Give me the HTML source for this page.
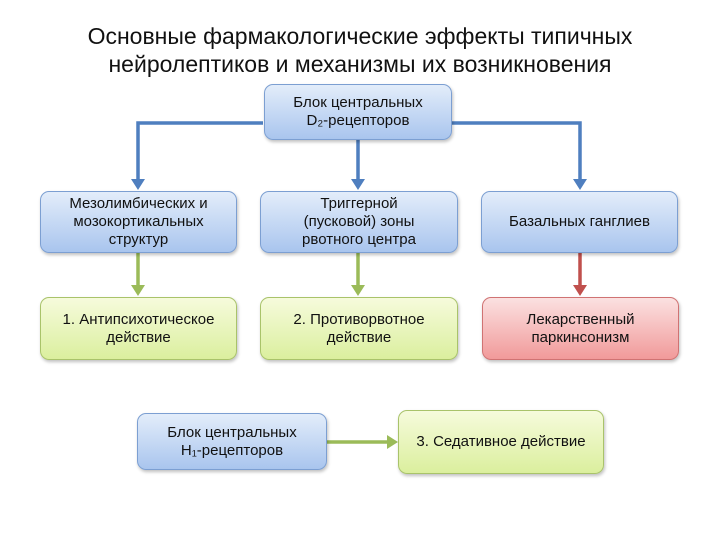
<!DOCTYPE html>
<html><head><meta charset="utf-8"><style>
body{margin:0;width:720px;height:540px;background:#fff;font-family:"Liberation Sans",sans-serif;position:relative;overflow:hidden}
.t{position:absolute;left:0;width:720px;text-align:center;font-size:23px;color:#111;line-height:28px;top:22px}
.b{position:absolute;box-sizing:border-box;border-radius:9px;display:flex;align-items:center;justify-content:center;text-align:center;font-size:15px;line-height:18px;color:#111;box-shadow:1px 2px 3px rgba(0,0,0,.25)}
.bl{background:linear-gradient(#e3edfa,#a9c5ee);border:1px solid #7c9fd2}
.gr{background:linear-gradient(#f6fbdc,#dbef9e);border:1px solid #a9c36a}
.rd{background:linear-gradient(#fbe1e1,#f19a9a);border:1px solid #d07373}
</style></head><body>
<div class="t">Основные фармакологические эффекты типичных<br>нейролептиков и механизмы их возникновения</div>
<svg width="720" height="540" style="position:absolute;left:0;top:0">
<g stroke="#4f7fbf" stroke-width="3.5" fill="none">
<path d="M263 123H138V186M452 123H580V186M358 140V186"/>
</g>
<g fill="#4f7fbf"><path d="M131 179l7 11 7-11zM351 179l7 11 7-11zM573 179l7 11 7-11z"/></g>
<g stroke="#9bbb59" stroke-width="3.5" fill="none">
<path d="M138 252V292M358 252V292M327 442H392"/>
</g>
<g fill="#9bbb59"><path d="M131 285l7 11 7-11zM351 285l7 11 7-11zM387 435l11 7-11 7z"/></g>
<g stroke="#c0504d" stroke-width="3.5" fill="none"><path d="M580 252V292"/></g>
<path d="M573 285l7 11 7-11z" fill="#c0504d"/>
</svg>
<div class="b bl" style="left:264px;top:84px;width:188px;height:56px">Блок центральных<br>D₂-рецепторов</div>
<div class="b bl" style="left:40px;top:191px;width:197px;height:62px">Мезолимбических и<br>мозокортикальных<br>структур</div>
<div class="b bl" style="left:260px;top:191px;width:198px;height:62px">Триггерной<br>(пусковой) зоны<br>рвотного центра</div>
<div class="b bl" style="left:481px;top:191px;width:197px;height:62px">Базальных ганглиев</div>
<div class="b gr" style="left:40px;top:297px;width:197px;height:63px">1. Антипсихотическое<br>действие</div>
<div class="b gr" style="left:260px;top:297px;width:198px;height:63px">2. Противорвотное<br>действие</div>
<div class="b rd" style="left:482px;top:297px;width:197px;height:63px">Лекарственный<br>паркинсонизм</div>
<div class="b bl" style="left:137px;top:413px;width:190px;height:57px">Блок центральных<br>H₁-рецепторов</div>
<div class="b gr" style="left:398px;top:410px;width:206px;height:64px">3. Седативное действие</div>
</body></html>
